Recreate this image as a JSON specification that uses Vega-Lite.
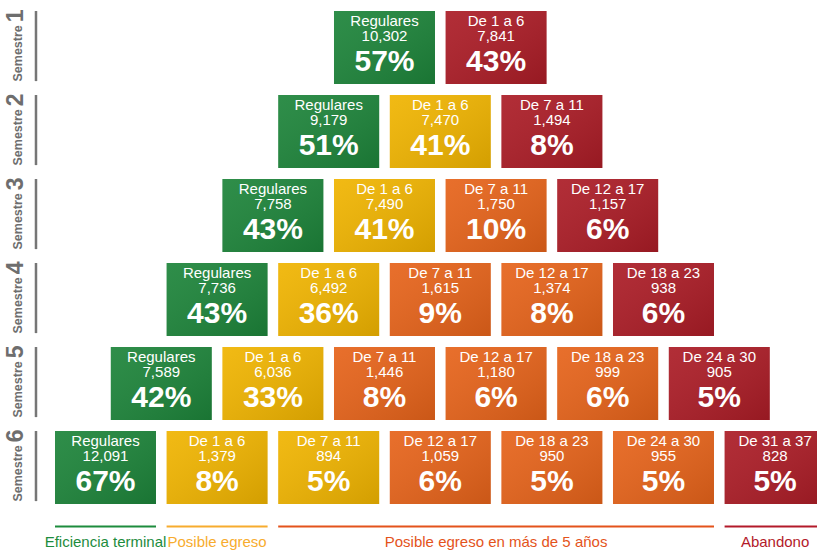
{
  "$schema": "https://vega.github.io/schema/vega-lite/v6.json",
  "width": 817,
  "height": 550,
  "autosize": {"type": "none"},
  "padding": 0,
  "background": "white",
  "config": {"view": {"stroke": null}},
  "datasets": {
    "cajas": [
      {"sem": 1, "orden": 1, "label": "Regulares", "n": 10302, "pct": 0.57, "cat": "eficiencia"},
      {"sem": 1, "orden": 2, "label": "De 1 a 6", "n": 7841, "pct": 0.43, "cat": "abandono"},
      {"sem": 2, "orden": 1, "label": "Regulares", "n": 9179, "pct": 0.51, "cat": "eficiencia"},
      {"sem": 2, "orden": 2, "label": "De 1 a 6", "n": 7470, "pct": 0.41, "cat": "posible"},
      {"sem": 2, "orden": 3, "label": "De 7 a 11", "n": 1494, "pct": 0.08, "cat": "abandono"},
      {"sem": 3, "orden": 1, "label": "Regulares", "n": 7758, "pct": 0.43, "cat": "eficiencia"},
      {"sem": 3, "orden": 2, "label": "De 1 a 6", "n": 7490, "pct": 0.41, "cat": "posible"},
      {"sem": 3, "orden": 3, "label": "De 7 a 11", "n": 1750, "pct": 0.10, "cat": "mas5"},
      {"sem": 3, "orden": 4, "label": "De 12 a 17", "n": 1157, "pct": 0.06, "cat": "abandono"},
      {"sem": 4, "orden": 1, "label": "Regulares", "n": 7736, "pct": 0.43, "cat": "eficiencia"},
      {"sem": 4, "orden": 2, "label": "De 1 a 6", "n": 6492, "pct": 0.36, "cat": "posible"},
      {"sem": 4, "orden": 3, "label": "De 7 a 11", "n": 1615, "pct": 0.09, "cat": "mas5"},
      {"sem": 4, "orden": 4, "label": "De 12 a 17", "n": 1374, "pct": 0.08, "cat": "mas5"},
      {"sem": 4, "orden": 5, "label": "De 18 a 23", "n": 938, "pct": 0.06, "cat": "abandono"},
      {"sem": 5, "orden": 1, "label": "Regulares", "n": 7589, "pct": 0.42, "cat": "eficiencia"},
      {"sem": 5, "orden": 2, "label": "De 1 a 6", "n": 6036, "pct": 0.33, "cat": "posible"},
      {"sem": 5, "orden": 3, "label": "De 7 a 11", "n": 1446, "pct": 0.08, "cat": "mas5"},
      {"sem": 5, "orden": 4, "label": "De 12 a 17", "n": 1180, "pct": 0.06, "cat": "mas5"},
      {"sem": 5, "orden": 5, "label": "De 18 a 23", "n": 999, "pct": 0.06, "cat": "mas5"},
      {"sem": 5, "orden": 6, "label": "De 24 a 30", "n": 905, "pct": 0.05, "cat": "abandono"},
      {"sem": 6, "orden": 1, "label": "Regulares", "n": 12091, "pct": 0.67, "cat": "eficiencia"},
      {"sem": 6, "orden": 2, "label": "De 1 a 6", "n": 1379, "pct": 0.08, "cat": "posible"},
      {"sem": 6, "orden": 3, "label": "De 7 a 11", "n": 894, "pct": 0.05, "cat": "posible"},
      {"sem": 6, "orden": 4, "label": "De 12 a 17", "n": 1059, "pct": 0.06, "cat": "mas5"},
      {"sem": 6, "orden": 5, "label": "De 18 a 23", "n": 950, "pct": 0.05, "cat": "mas5"},
      {"sem": 6, "orden": 6, "label": "De 24 a 30", "n": 955, "pct": 0.05, "cat": "mas5"},
      {"sem": 6, "orden": 7, "label": "De 31 a 37", "n": 828, "pct": 0.05, "cat": "abandono"}
    ],
    "semestres": [
      {"sem": 1}, {"sem": 2}, {"sem": 3}, {"sem": 4}, {"sem": 5}, {"sem": 6}
    ],
    "leyenda": [
      {"cat": "eficiencia", "etiqueta": "Eficiencia terminal", "c0": 1, "c1": 1},
      {"cat": "posible", "etiqueta": "Posible egreso", "c0": 2, "c1": 2},
      {"cat": "mas5", "etiqueta": "Posible egreso en más de 5 años", "c0": 3, "c1": 6},
      {"cat": "abandono", "etiqueta": "Abandono", "c0": 7, "c1": 7}
    ]
  },
  "resolve": {"scale": {"color": "independent"}},
  "layer": [
    {
      "data": {"name": "cajas"},
      "transform": [
        {"calculate": "datum.orden + (6 - datum.sem) / 2", "as": "xc"},
        {"calculate": "datum.xc - 0.4525", "as": "x0"},
        {"calculate": "datum.xc + 0.4525", "as": "x1"},
        {"calculate": "datum.sem - 0.4345", "as": "y0"},
        {"calculate": "datum.sem + 0.4345", "as": "y1"}
      ],
      "layer": [
        {
          "mark": {"type": "rect"},
          "encoding": {
            "x": {"field": "x0", "type": "quantitative", "scale": {"domain": [0.0547, 7.3755], "nice": false, "zero": false}, "axis": null},
            "x2": {"field": "x1"},
            "y": {"field": "y0", "type": "quantitative", "scale": {"domain": [0.4345, 6.982], "nice": false, "zero": false, "reverse": true}, "axis": null},
            "y2": {"field": "y1"},
            "color": {"field": "cat", "type": "nominal", "legend": null,
              "scale": {"domain": ["eficiencia", "posible", "mas5", "abandono"], "range": ["#1d843a", "#f0b400", "#e6631a", "#ab1c26"]}}
          }
        },
        {
          "mark": {"type": "rect", "fill": {"gradient": "linear", "x1": 0, "y1": 0, "x2": 1, "y2": 1,
            "stops": [{"offset": 0, "color": "rgba(255,255,255,0.08)"}, {"offset": 1, "color": "rgba(0,0,0,0.12)"}]}},
          "encoding": {
            "x": {"field": "x0", "type": "quantitative", "scale": {"domain": [0.0547, 7.3755], "nice": false, "zero": false}, "axis": null},
            "x2": {"field": "x1"},
            "y": {"field": "y0", "type": "quantitative", "scale": {"domain": [0.4345, 6.982], "nice": false, "zero": false, "reverse": true}, "axis": null},
            "y2": {"field": "y1"}
          }
        },
        {
          "mark": {"type": "text", "font": "Liberation Sans, Arial, sans-serif", "fontSize": 15, "color": "white", "baseline": "alphabetic", "align": "center", "dy": -22},
          "encoding": {
            "x": {"field": "xc", "type": "quantitative", "scale": {"domain": [0.0547, 7.3755], "nice": false, "zero": false}, "axis": null},
            "y": {"field": "sem", "type": "quantitative", "scale": {"domain": [0.4345, 6.982], "nice": false, "zero": false, "reverse": true}, "axis": null},
            "text": {"field": "label", "type": "nominal"}
          }
        },
        {
          "mark": {"type": "text", "font": "Liberation Sans, Arial, sans-serif", "fontSize": 15, "color": "white", "baseline": "alphabetic", "align": "center", "dy": -6.5},
          "encoding": {
            "x": {"field": "xc", "type": "quantitative", "scale": {"domain": [0.0547, 7.3755], "nice": false, "zero": false}, "axis": null},
            "y": {"field": "sem", "type": "quantitative", "scale": {"domain": [0.4345, 6.982], "nice": false, "zero": false, "reverse": true}, "axis": null},
            "text": {"field": "n", "type": "quantitative", "format": ","}
          }
        },
        {
          "mark": {"type": "text", "font": "Liberation Sans, Arial, sans-serif", "fontSize": 30, "fontWeight": "bold", "color": "white", "baseline": "alphabetic", "align": "center", "dy": 23},
          "encoding": {
            "x": {"field": "xc", "type": "quantitative", "scale": {"domain": [0.0547, 7.3755], "nice": false, "zero": false}, "axis": null},
            "y": {"field": "sem", "type": "quantitative", "scale": {"domain": [0.4345, 6.982], "nice": false, "zero": false, "reverse": true}, "axis": null},
            "text": {"field": "pct", "type": "quantitative", "format": ".0%"}
          }
        }
      ]
    },
    {
      "data": {"name": "semestres"},
      "transform": [
        {"calculate": "datum.sem - 0.4345", "as": "ytop"},
        {"calculate": "datum.sem + 0.40", "as": "ybot"},
        {"calculate": "datum.sem + 0.405", "as": "ys"},
        {"calculate": "datum.sem - 0.452", "as": "yn"}
      ],
      "layer": [
        {
          "mark": {"type": "rule", "color": "#767676", "strokeWidth": 2.5},
          "encoding": {
            "x": {"datum": 0.3772, "type": "quantitative", "scale": {"domain": [0.0547, 7.3755], "nice": false, "zero": false}, "axis": null},
            "y": {"field": "ytop", "type": "quantitative", "scale": {"domain": [0.4345, 6.982], "nice": false, "zero": false, "reverse": true}, "axis": null},
            "y2": {"field": "ybot"}
          }
        },
        {
          "mark": {"type": "text", "font": "Liberation Sans, Arial, sans-serif", "fontWeight": "bold", "fontSize": 12.5, "color": "#6e6e6e", "angle": 270, "align": "left", "baseline": "alphabetic"},
          "encoding": {
            "x": {"datum": 0.2563, "type": "quantitative", "scale": {"domain": [0.0547, 7.3755], "nice": false, "zero": false}, "axis": null},
            "y": {"field": "ys", "type": "quantitative", "scale": {"domain": [0.4345, 6.982], "nice": false, "zero": false, "reverse": true}, "axis": null},
            "text": {"value": "Semestre"}
          }
        },
        {
          "mark": {"type": "text", "font": "Liberation Sans, Arial, sans-serif", "fontWeight": "bold", "fontSize": 23, "color": "#6e6e6e", "angle": 270, "align": "right", "baseline": "alphabetic"},
          "encoding": {
            "x": {"datum": 0.2608, "type": "quantitative", "scale": {"domain": [0.0547, 7.3755], "nice": false, "zero": false}, "axis": null},
            "y": {"field": "yn", "type": "quantitative", "scale": {"domain": [0.4345, 6.982], "nice": false, "zero": false, "reverse": true}, "axis": null},
            "text": {"field": "sem", "type": "nominal"}
          }
        }
      ]
    },
    {
      "data": {"name": "leyenda"},
      "transform": [
        {"calculate": "datum.c0 - 0.4525", "as": "x0"},
        {"calculate": "datum.c1 + 0.4525", "as": "x1"},
        {"calculate": "(datum.c0 + datum.c1) / 2", "as": "xm"}
      ],
      "layer": [
        {
          "mark": {"type": "rule", "strokeWidth": 2},
          "encoding": {
            "x": {"field": "x0", "type": "quantitative", "scale": {"domain": [0.0547, 7.3755], "nice": false, "zero": false}, "axis": null},
            "x2": {"field": "x1"},
            "y": {"datum": 6.702, "type": "quantitative", "scale": {"domain": [0.4345, 6.982], "nice": false, "zero": false, "reverse": true}, "axis": null},
            "color": {"field": "cat", "type": "nominal", "legend": null,
              "scale": {"domain": ["eficiencia", "posible", "mas5", "abandono"], "range": ["#1d8c3d", "#f7ac2e", "#e4531b", "#b31a2a"]}}
          }
        },
        {
          "mark": {"type": "text", "font": "Liberation Sans, Arial, sans-serif", "fontSize": 15, "baseline": "alphabetic", "align": "center", "dy": 20.5},
          "encoding": {
            "x": {"field": "xm", "type": "quantitative", "scale": {"domain": [0.0547, 7.3755], "nice": false, "zero": false}, "axis": null},
            "y": {"datum": 6.702, "type": "quantitative", "scale": {"domain": [0.4345, 6.982], "nice": false, "zero": false, "reverse": true}, "axis": null},
            "text": {"field": "etiqueta", "type": "nominal"},
            "color": {"field": "cat", "type": "nominal", "legend": null,
              "scale": {"domain": ["eficiencia", "posible", "mas5", "abandono"], "range": ["#1d8c3d", "#f7ac2e", "#e4531b", "#b31a2a"]}}
          }
        }
      ]
    }
  ]
}
